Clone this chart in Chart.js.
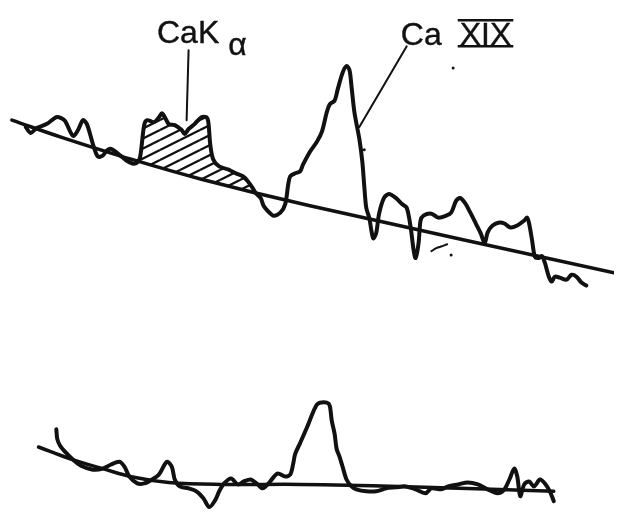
<!DOCTYPE html>
<html>
<head>
<meta charset="utf-8">
<script src="https://cdn.jsdelivr.net/npm/chart.js@4.4.1/dist/chart.umd.min.js"></script>
<style>
  html, body { margin: 0; padding: 0; background: #fff; }
  #wrap { width: 618px; height: 515px; position: relative; }
</style>
</head>
<body>
<div id="wrap"><canvas id="c"></canvas></div>
<script>
// Spectral scans: channel position (x) against recorder deflection (y, measured downward).

// Upper scan
const upperScan = [
  [22,125],[27,131],[33,126],[43,122],[53,115],[58,116],[62,119],[70,134],[75,128],[80,118],
  [84,122],[90,142],[95,155],[100,154],[104,149],[108,147],[113,150],[118,154],[124,159],[130,162],
  [135,161],[138,155],[142,123],[145,118],[152,120],[157,115],[160,111],[163,115],[167,122],[173,123],
  [180,128],[183,132],[187,127],[193,122],[200,115],[205,115],[207,120],[209,143],[212,158],[218,165],
  [227,168],[235,172],[242,175],[247,180],[252,187],[255,192],[260,197],[263,205],[267,210],[273,215],
  [280,212],[285,203],[288,183],[290,175],[295,172],[300,170],[303,163],[310,150],[317,140],[322,130],
  [327,110],[330,102],[335,98],[338,87],[343,70],[347,63],[350,67],[352,83],[355,110],[360,137],
  [363,160],[365,185],[367,207],[370,217],[374,238],[377,233],[380,213],[385,197],[390,193],[397,197],
  [403,203],[408,207],[412,227],[415,250],[417,258],[420,243],[422,220],[425,215],[433,213],[440,217],
  [448,215],[453,212],[458,200],[462,197],[467,202],[473,213],[478,223],[483,233],[487,243],[490,232],
  [495,225],[502,222],[507,223],[513,227],[520,225],[527,220],[530,217],[532,223],[535,240],[538,257],
  [542,258],[545,256],[548,263],[552,277],[555,282],[558,277],[563,278],[570,280],[575,275],[580,277],
  [585,283],[590,286]
];
const upperBaseline = [[8,118],[60,136],[120,155],[200,178],[310,205],[618,273]];
// CaK-alpha band, shaded down to the baseline
const kAlphaBand = [
  [136,161],[138,155],[142,123],[145,118],[152,120],[157,115],[160,111],[163,115],[167,122],[173,123],
  [180,128],[183,132],[187,127],[193,122],[200,115],[205,115],[207,120],[209,143],[212,158],[218,165],
  [227,168],[235,172],[242,175],[247,180],[252,187],[254,191]
];

// Lower scan
const lowerScan = [
  [53,432],[54,442],[57,449],[62,455],[70,463],[78,469],[90,473],[100,472],[108,468],[117,465],
  [122,470],[127,480],[135,487],[142,487],[150,483],[157,478],[165,465],[170,470],[173,483],[178,490],
  [187,492],[195,495],[202,502],[208,511],[214,504],[218,495],[223,487],[230,482],[237,488],[243,485],
  [250,483],[257,488],[262,492],[268,487],[277,477],[285,480],[290,478],[293,467],[295,457],[300,446],
  [307,430],[313,415],[317,407],[320,405],[327,405],[330,408],[332,423],[335,437],[337,452],[340,460],
  [343,470],[347,483],[352,490],[357,493],[367,495],[377,495],[387,492],[397,491],[407,490],[417,493],
  [427,497],[433,492],[443,493],[450,490],[460,488],[470,486],[480,488],[490,493],[500,497],[507,493],
  [512,483],[517,472],[520,480],[523,500],[527,488],[532,485],[537,490],[543,483],[548,487],[553,495],
  [557,505]
];
const lowerBaseline = [[35,450],[67,462],[100,472],[133,481],[167,486],[220,488],[300,488],[400,490],[557,495]];

// Line identifications: label text, label anchor, leader line
const kAlphaLeader = [[187,47],[185,118]];
const caXIXLeader = [[408,43],[360,125]];
const lineLabels = [
  { main: 'CaK', sub: 'α', at: [155, 40] },
  { main: 'Ca', roman: 'XIX', at: [402, 42] }
];

// Small pen marks near the upper scan
const penMarks = [[433,251],[438,248],[444,246],[449,244]];
const penDots = [[365,148],[453,255],[455,65]];

const pts = a => a.map(([x, y]) => ({ x, y }));
const INK = '#111';

function hatchPattern() {
  const c = document.createElement('canvas');
  c.width = 20; c.height = 10;
  const g = c.getContext('2d');
  g.strokeStyle = INK; g.lineWidth = 2.3;
  for (const [dx, dy] of [[0,0],[-20,0],[20,0],[0,-10],[0,10]]) {
    g.beginPath(); g.moveTo(dx, 10 + dy); g.lineTo(20 + dx, dy); g.stroke();
  }
  return g.createPattern(c, 'repeat');
}

const line = (data, width, extra = {}) => Object.assign({
  data: pts(data), showLine: true, borderColor: INK, borderWidth: width,
  pointRadius: 0, tension: 0.3, fill: false, borderCapStyle: 'round', borderJoinStyle: 'round'
}, extra);

const labelPlugin = {
  id: 'lineLabels',
  afterDatasetsDraw(chart) {
    const { ctx, scales: { x, y } } = chart;
    ctx.save();
    ctx.fillStyle = INK; ctx.strokeStyle = INK;
    ctx.font = '32px "Liberation Sans", sans-serif';
    ctx.textBaseline = 'alphabetic';
    ctx.lineJoin = 'round';
    const put = (t, px, py) => { ctx.lineWidth = 0.4; ctx.strokeText(t, px, py); ctx.fillText(t, px, py); };
    for (const l of lineLabels) {
      const px = x.getPixelForValue(l.at[0]);
      const py = y.getPixelForValue(l.at[1]);
      put(l.main, px, py);
      const w = ctx.measureText(l.main).width;
      if (l.sub) put(l.sub, px + w + 9, py + 12);
      if (l.roman) {
        const rx = px + w + 18;
        put(l.roman, rx, py);
        const rw = ctx.measureText(l.roman).width;
        ctx.lineWidth = 2.5;
        ctx.beginPath();
        ctx.moveTo(rx - 2, py - 25); ctx.lineTo(rx + rw + 2, py - 25);
        ctx.moveTo(rx - 2, py + 1); ctx.lineTo(rx + rw + 2, py + 1);
        ctx.stroke();
      }
    }
    ctx.restore();
  }
};

new Chart(document.getElementById('c'), {
  type: 'scatter',
  data: {
    datasets: [
      line(upperBaseline, 3.5, { tension: 0.4 }),
      line(kAlphaBand, 0, { fill: { target: 0 }, backgroundColor: hatchPattern(), tension: 0.3 }),
      line(upperScan, 4),
      line(lowerBaseline, 3.5, { tension: 0.4 }),
      line(lowerScan, 4),
      line(kAlphaLeader, 2, { tension: 0 }),
      line(caXIXLeader, 2, { tension: 0 }),
      line(penMarks, 2, { tension: 0.4 }),
      { data: pts(penDots), pointRadius: 1.5, pointBackgroundColor: INK, pointBorderWidth: 0, showLine: false }
    ]
  },
  options: {
    responsive: true,
    maintainAspectRatio: false,
    animation: false,
    layout: { padding: 0 },
    plugins: { legend: { display: false }, tooltip: { enabled: false } },
    scales: {
      x: { type: 'linear', min: 0, max: 618, display: false },
      y: { type: 'linear', min: 0, max: 515, reverse: true, display: false }
    }
  },
  plugins: [labelPlugin]
});
</script>
</body>
</html>
